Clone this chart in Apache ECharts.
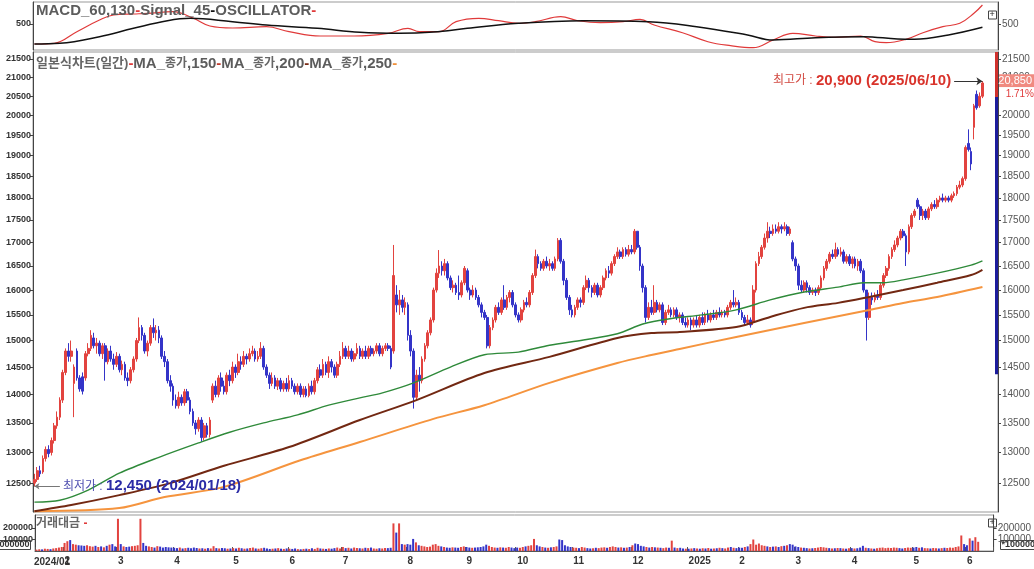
<!DOCTYPE html>
<html><head><meta charset="utf-8">
<script src="https://cdn.jsdelivr.net/npm/echarts@6/dist/echarts.min.js"></script>
<style>html,body{margin:0;padding:0;background:#fff}#c{width:1034px;height:569px}</style>
</head><body><div id="c"></div><script>
// ---------- DATA ----------
const holidays = ['2024-02-09','2024-02-12','2024-03-01','2024-04-10','2024-05-01','2024-05-06','2024-05-15','2024-06-06','2024-08-15','2024-09-16','2024-09-17','2024-09-18','2024-10-01','2024-10-03','2024-10-09','2024-12-25','2024-12-31','2025-01-01','2025-01-27','2025-01-28','2025-01-29','2025-01-30','2025-03-03','2025-05-01','2025-05-05','2025-05-06','2025-06-03','2025-06-06'];
// rows: [open, close, low, high]
const ohlc2401 = [[12500,12560,12450,12650],[12560,12700,12520,12760],[12700,12650,12600,12780],[12680,12900,12650,12950],[12900,13050,12850,13100],[13050,12980,12920,13120],[13000,13200,12950,13250],[13200,13450,13150,13500],[13450,13600,13400,13700],[13600,13900,13550,13950]];
const ohlc2402 = [[13900,14400,13850,14450],[14400,14800,14350,14850],[14800,14700,14600,14950],[14700,14800,14600,15000],[14200,14500,13600,14550],[14800,14300,14250,14850],[14300,14100,14050,14350],[14320,14060,14000,14400],[14300,14750,14250,14800],[14750,14850,14700,14950],[14850,15100,14800,15200],[15050,14900,14850,15150],[14900,14950,14750,15050],[14950,14750,14700,15000],[14750,14900,14650,14950],[14900,14600,14250,14950],[14600,14800,14550,14850],[14800,14650,14600,14900],[14650,14550,14450,14750]];
const ohlc2403 = [[14550,14700,14500,14780],[14700,14450,14400,14750],[14450,14550,14350,14620],[14550,14300,14250,14600],[14300,14250,14150,14400],[14250,14450,14200,14500],[14450,14650,14400,14700],[14650,15000,14600,15050],[15000,15250,14950,15450],[15250,15100,15000,15300],[15100,14800,14750,15150],[14800,14950,14700,15000],[14950,15250,14900,15300],[15250,15150,15050,15430],[15150,15200,15000,15300],[15200,15050,14950,15280],[15050,14700,14650,15100],[14700,14600,14500,14800],[14600,14250,14200,14650],[14250,14150,14050,14350]];
const ohlc2404 = [[14150,13900,13800,14200],[13900,13800,13750,14000],[13800,13950,13750,14050],[13950,13850,13800,14000],[13850,14050,13800,14100],[14050,13900,13850,14100],[13900,13700,13650,13950],[13700,13500,13450,13750],[13500,13400,13300,13550],[13400,13550,13350,13600],[13550,13250,13180,13600],[13250,13450,13200,13500],[13450,13300,13250,13500],[13300,13550,13250,13600],[13900,14150,13850,14200],[14150,14000,13950,14250],[14000,14300,13950,14350],[14300,14150,14050,14400],[14150,14050,14000,14250],[14050,14350,14000,14400],[14350,14250,14150,14450]];
const ohlc2405 = [[14250,14500,14200,14600],[14500,14400,14300,14550],[14400,14600,14350,14750],[14600,14550,14450,14700],[14550,14700,14500,14800],[14700,14650,14550,14750],[14650,14750,14600,14850],[14750,14800,14700,14900],[14800,14650,14600,14850],[14650,14700,14600,14800],[14700,14850,14650,14970],[14850,14500,14450,14900],[14500,14350,14300,14550],[14350,14200,14100,14400],[14200,14300,14150,14400],[14300,14150,14100,14350],[14150,14250,14080,14300],[14250,14100,14050,14300],[14100,14200,14050,14250],[14200,14100,14050,14300]];
const ohlc2406 = [[14100,14250,14050,14350],[14250,14150,14100,14300],[14150,14050,14000,14200],[14050,14150,14000,14200],[14150,14000,13950,14200],[14000,14100,13950,14150],[14100,13980,13950,14150],[13980,14150,13950,14200],[14150,14050,14000,14250],[14050,14250,14000,14300],[14250,14450,14200,14500],[14450,14350,14300,14550],[14350,14550,14300,14650],[14550,14400,14350,14600],[14400,14600,14300,14700],[14600,14500,14400,14650],[14500,14350,14300,14550],[14350,14550,14300,14600],[14550,14700,14500,14800]];
const ohlc2407 = [[14700,14850,14650,14970],[14850,14700,14650,14900],[14700,14800,14650,14900],[14800,14650,14600,14850],[14650,14750,14600,14800],[14750,14850,14700,14950],[14850,14700,14650,14900],[14700,14800,14650,14850],[14800,14700,14650,14900],[14700,14850,14650,14900],[14850,14750,14700,14900],[14750,14800,14700,14850],[14800,14900,14750,14950],[14900,14750,14700,14950],[14750,14850,14700,14900],[14850,14900,14800,14950],[14900,14850,14800,14950],[14850,14500,14460,14900],[14800,16300,14750,16950],[15900,15700,15550,16100],[15700,15800,15500,16000],[15800,15650,15550,15900],[15650,15750,15500,15850]];
const ohlc2408 = [[15700,15100,15000,15750],[15100,14800,14700,15200],[14800,13950,13750,14850],[13950,14350,13900,14450],[14350,14250,14050,14500],[14250,14650,14200,14700],[14650,14900,14600,14950],[14900,15150,14850,15200],[15150,15400,15100,15450],[15400,16000,15350,16050],[16000,16350,15950,16450],[16350,16500,16250,16840],[16500,16400,16300,16600],[16400,16550,16300,16650],[16550,16250,16200,16600],[16250,16050,16000,16300],[16050,16100,15950,16200],[16100,15950,15900,16150],[15950,15900,15800,16300],[15900,16150,15850,16200],[16150,16450,16100,16500]];
const ohlc2409 = [[16400,16000,15950,16450],[16000,15900,15800,16050],[15900,16000,15850,16100],[16000,15850,15800,16050],[15850,15700,15650,15900],[15700,15550,15450,15750],[15550,15450,15400,15600],[15450,14900,14850,15500],[14900,15250,14850,15300],[15250,15400,15200,15450],[15400,15650,15350,15700],[15650,15550,15500,15750],[15550,15800,15500,15850],[15800,15650,15600,16100],[15650,15850,15600,15900],[15850,15950,15750,16000],[15950,15700,15650,16000],[15700,15500,15450,15750]];
const ohlc2410 = [[15500,15400,15350,15550],[15400,15600,15350,15650],[15600,15750,15550,15800],[15750,15700,15650,15850],[15700,15950,15650,16000],[15950,16300,15900,16350],[16300,16700,16250,16850],[16700,16550,16450,16750],[16550,16450,16400,16600],[16450,16600,16400,16650],[16600,16500,16450,16700],[16500,16550,16400,16650],[16550,16450,16400,16600],[16450,16650,16400,16700],[16650,17050,16600,17100],[17050,16600,16550,17100],[16600,16200,16100,16650],[16200,15850,15800,16250],[15850,15600,15500,15900],[15600,15500,15450,15700]];
const ohlc2411 = [[15500,15650,15450,15700],[15650,15800,15600,15850],[15800,15750,15650,15850],[15750,16050,15700,16100],[16050,16200,16000,16300],[16200,16050,15950,16250],[16050,15950,15850,16100],[15950,16100,15900,16150],[16100,15900,15850,16150],[15900,16050,15850,16100],[16050,16250,16000,16300],[16250,16400,16200,16450],[16400,16350,16250,16500],[16350,16550,16300,16600],[16550,16700,16500,16750],[16700,16800,16650,16900],[16800,16700,16650,16850],[16700,16850,16650,16900],[16850,16750,16700,16900],[16750,16850,16700,16950],[16850,16800,16750,16950]];
const ohlc2412 = [[16800,17250,16750,17300],[17250,16900,16850,17250],[16900,16500,16400,16950],[16500,16050,15950,16550],[16050,15450,15350,16100],[15450,15650,15400,15750],[15650,15550,15500,15800],[15550,15750,15500,16100],[15750,15600,15550,15800],[15600,15700,15550,15750],[15700,15350,15300,15750],[15350,15550,15300,15600],[15550,15600,15500,15700],[15600,15500,15450,15650],[15500,15600,15450,15650],[15600,15450,15400,15650],[15450,15500,15350,15550],[15500,15350,15300,15550],[15350,15300,15250,15450],[15300,15400,15250,15450]];
const ohlc2501 = [[15400,15300,15200,15450],[15300,15400,15250,15450],[15400,15300,15250,15500],[15300,15450,15250,15500],[15450,15350,15300,15550],[15350,15500,15300,15550],[15500,15400,15350,15600],[15400,15500,15350,15550],[15500,15450,15400,15600],[15450,15550,15400,15600],[15550,15500,15450,15650],[15500,15550,15450,15600],[15550,15500,15450,15600],[15500,15650,15450,15700],[15650,15750,15600,15800],[15750,15700,15650,16000],[15700,15750,15650,15850],[15750,15550,15500,15800]];
const ohlc2502 = [[15550,15450,15400,15600],[15450,15350,15300,15500],[15350,15400,15300,15500],[15400,15300,15250,15450],[15350,16000,15300,16100],[16000,16550,15950,16600],[16550,16700,16500,16800],[16700,16900,16650,16950],[16900,17100,16850,17200],[17100,17250,17000,17450],[17250,17200,17100,17350],[17200,17300,17150,17400],[17300,17250,17200,17400],[17250,17350,17200,17450],[17350,17300,17200,17400],[17300,17350,17250,17450],[17350,17200,17150,17400],[17200,17300,17150,17350],[17000,16650,16600,17050],[16650,16500,16400,16700]];
const ohlc2503 = [[16500,16100,16000,16550],[16100,16000,15950,16200],[16000,16150,15950,16200],[16150,16050,15950,16200],[16050,15950,15900,16100],[15950,16000,15900,16050],[16000,15950,15880,16050],[15950,16050,15900,16100],[16050,16250,16000,16300],[16250,16450,16200,16500],[16450,16600,16400,16650],[16600,16750,16550,16800],[16750,16700,16650,16850],[16700,16850,16650,17000],[16850,16750,16700,16900],[16750,16800,16700,16900],[16800,16600,16550,16850],[16600,16700,16550,16750],[16700,16550,16500,16750],[16550,16650,16450,16700]];
const ohlc2504 = [[16650,16500,16450,16700],[16500,16600,16400,16650],[16600,16400,16350,16650],[16400,16000,15950,16450],[16000,15450,15000,16000],[15450,15850,15400,15950],[15850,15800,15700,15950],[15800,15900,15750,15950],[15900,15850,15800,16000],[15850,16100,15800,16150],[16100,16300,16050,16350],[16300,16450,16250,16500],[16450,16700,16400,16750],[16700,16850,16650,16900],[16850,16950,16800,17050],[16950,17100,16900,17150],[17100,17250,17050,17300],[17250,17150,17100,17300],[17150,16800,16500,17200],[16800,17350,16750,17400],[17350,17600,17300,17650],[17600,17700,17550,17750]];
const ohlc2505 = [[17950,17800,17750,18000],[17800,17600,17500,17850],[17600,17700,17500,17750],[17700,17550,17500,17750],[17550,17750,17500,17800],[17750,17850,17700,17900],[17850,17800,17750,17950],[17800,17950,17750,18000],[17950,18000,17900,18050],[18000,17950,17900,18100],[17950,18000,17900,18050],[18000,17950,17900,18050],[17950,18050,17900,18100],[18050,18100,18000,18150],[18100,18250,18050,18300],[18250,18300,18200,18400],[18300,18450,18250,18500],[18450,19200,18400,19250],[19300,19150,19100,19650]];
const ohlc2506 = [[19100,18800,18650,19200],[19700,20250,19400,20300],[20550,20200,20150,20650],[20250,20500,20200,20600],[20500,20850,20450,20900]];

// trading value (거래대금), units of 1,000,000
const vol2401 = [12000,15000,14000,20000,18000,16000,22000,25000,30000,35000];
const vol2402 = [70000,85000,95000,60000,55000,50000,48000,45000,50000,42000,38000,45000,35000,40000,32000,45000,55000,60000,40000];
const vol2403 = [280000,60000,40000,35000,38000,42000,45000,50000,280000,70000,45000,40000,35000,30000,42000,38000,30000,35000,32000,30000];
const vol2404 = [28000,25000,30000,22000,25000,28000,24000,30000,26000,22000,24000,20000,25000,22000,42000,25000,22000,26000,24000,20000,22000];
const vol2405 = [25000,22000,28000,24000,20000,22000,26000,30000,22000,20000,24000,28000,22000,18000,20000,22000,25000,20000,18000,22000];
const vol2406 = [20000,18000,22000,16000,15000,18000,20000,17000,24000,18000,28000,22000,20000,18000,22000,20000,25000,30000,22000];
const vol2407 = [35000,25000,28000,22000,30000,26000,24000,22000,28000,25000,30000,22000,20000,24000,22000,26000,25000,28000,240000,160000,240000,60000,55000];
const vol2408 = [60000,55000,105000,75000,50000,45000,40000,35000,38000,55000,60000,45000,40000,35000,30000,28000,32000,30000,28000,35000,40000];
const vol2409 = [35000,30000,28000,30000,32000,35000,40000,55000,45000,35000,30000,28000,32000,30000,28000,35000,30000,25000];
const vol2410 = [30000,28000,35000,40000,45000,50000,105000,50000,40000,35000,30000,28000,32000,35000,40000,100000,95000,50000,40000,35000];
const vol2411 = [30000,28000,25000,35000,30000,25000,22000,24000,28000,25000,30000,32000,28000,35000,40000,35000,30000,32000,28000,30000,35000];
const vol2412 = [50000,65000,60000,45000,40000,35000,30000,35000,32000,30000,28000,25000,30000,28000,90000,30000,25000,28000,22000,20000];
const vol2501 = [20000,22000,25000,22000,20000,24000,22000,26000,20000,22000,24000,28000,25000,22000,30000,35000,28000,25000];
const vol2502 = [30000,28000,35000,40000,60000,100000,55000,65000,50000,45000,40000,35000,38000,40000,35000,42000,45000,50000,60000,55000];
const vol2503 = [40000,35000,30000,28000,25000,22000,24000,26000,30000,35000,32000,28000,25000,22000,24000,26000,25000,22000,20000,24000];
const vol2504 = [25000,22000,24000,30000,45000,28000,25000,22000,20000,24000,28000,30000,25000,28000,26000,30000,28000,25000,22000,26000,30000,28000];
const vol2505 = [30000,35000,28000,32000,25000,24000,22000,26000,24000,22000,25000,28000,26000,30000,28000,35000,40000,135000,60000];
const vol2506 = [50000,110000,90000,120000,80000];

// moving averages: [day index, price]
const ma150 = [[0,12200],[9,12230],[19,12390],[30,12660],[44,12920],[58,13160],[69,13340],[81,13500],[93,13640],[104,13810],[115,13940],[123,14030],[134,14210],[147,14500],[159,14730],[171,14780],[182,14910],[194,15010],[206,15130],[215,15320],[224,15420],[236,15500],[248,15600],[260,15800],[272,15960],[284,16060],[293,16150],[300,16150],[307,16210],[319,16350],[331,16520],[335,16610]];
const ma200 = [[0,12060],[13,12155],[30,12310],[48,12500],[67,12780],[90,13090],[115,13550],[135,13900],[159,14390],[182,14690],[206,15050],[218,15145],[228,15165],[248,15260],[260,15460],[272,15640],[284,15740],[295,15860],[307,16000],[319,16150],[331,16310],[335,16420]];
const ma250 = [[0,12060],[30,12107],[46,12280],[67,12440],[94,12870],[115,13175],[141,13570],[159,13810],[182,14210],[206,14575],[218,14725],[228,14840],[248,15070],[272,15340],[295,15596],[307,15738],[319,15859],[335,16063]];

// MACD panel: [day index, value]
const macdLine = [[0,37],[7,54],[15,320],[23,588],[28,702],[35,725],[40,741],[49,778],[56,633],[62,450],[70,404],[82,434],[90,320],[101,221],[113,221],[125,283],[132,397],[136,320],[143,320],[149,549],[157,626],[164,571],[171,512],[177,549],[186,663],[192,571],[200,526],[208,549],[214,603],[219,473],[229,296],[238,90],[246,-1],[254,-47],[261,129],[268,283],[276,221],[283,191],[292,221],[297,90],[301,67],[308,145],[314,296],[321,434],[327,512],[332,741],[335,931]];
const signalLine = [[0,37],[9,54],[23,205],[35,397],[47,571],[55,626],[70,549],[82,473],[100,397],[115,305],[129,283],[141,312],[153,397],[171,512],[194,571],[217,549],[234,434],[252,244],[261,129],[276,182],[293,205],[305,152],[311,145],[323,244],[335,420]];

const priceTicks = [12500,13000,13500,14000,14500,15000,15500,16000,16500,17000,17500,18000,18500,19000,19500,20000,20500,21000,21500];
const volTicks = [100000,200000];
const macdTicks = [500];

// ---------- BUILD ----------
const FONT = "'Liberation Sans','Noto Sans CJK KR',sans-serif";
const RED = '#e2433f', BLUE = '#3434c8';
function tradingDays() {
  const out = []; let t = Date.UTC(2024,0,18); const end = Date.UTC(2025,5,10);
  while (t <= end) { const d = new Date(t); const wd = d.getUTCDay(); const s = d.toISOString().slice(0,10);
    if (wd !== 0 && wd !== 6 && holidays.indexOf(s) < 0) out.push(s.replace(/-/g,'/')); t += 86400000; }
  return out;
}
const candles = [].concat(ohlc2401,ohlc2402,ohlc2403,ohlc2404,ohlc2405,ohlc2406,ohlc2407,ohlc2408,ohlc2409,ohlc2410,ohlc2411,ohlc2412,ohlc2501,ohlc2502,ohlc2503,ohlc2504,ohlc2505,ohlc2506);
const volume = [].concat(vol2401,vol2402,vol2403,vol2404,vol2405,vol2406,vol2407,vol2408,vol2409,vol2410,vol2411,vol2412,vol2501,vol2502,vol2503,vol2504,vol2505,vol2506);
const dates = tradingDays().slice(0, candles.length);
const categories = dates.concat(['+1','+2','+3','+4','+5']);
// month starts after the first category (the first month label is drawn separately, it overlaps the next one)
const monthStart = categories.map((c,i) => i > 0 && c.length === 10 && c.slice(0,7) !== categories[i-1].slice(0,7));
const firstMonthLabel = categories[0].slice(0,7);
const L = Math.log;
const last = categories.length - 1;

const GL = 33, GR = 36;
function xAx(g) {
  return { type:'category', gridIndex:g, data:categories, boundaryGap:true,
    axisLine:{show:g===2, lineStyle:{color:'#555'}},
    axisTick:{show:g===2, interval:(i)=>monthStart[i] || i===0, inside:true, length:4, lineStyle:{color:'#555'}},
    axisLabel:{show:g===2, interval:(i)=>monthStart[i], align:'left', margin:5, fontSize:10, fontWeight:'bold', color:'#333', fontFamily:FONT,
      formatter:(v)=>{ const m=v.slice(5,7); return m==='01' ? v.slice(0,4) : String(+m); }},
    splitLine:{show:false} };
}
function yAx(g, pos, min, max, ticks, fmt, lab) {
  return { type:'value', gridIndex:g, position:pos, min:min, max:max,
    axisLine:{show:true, lineStyle:{color:'#444'}},
    axisTick:{show:true, length:3, customValues:ticks, lineStyle:{color:'#444'}},
    axisLabel:Object.assign({customValues:ticks, formatter:fmt, fontFamily:FONT}, lab),
    splitLine:{show:false} };
}
const leftLab = {fontSize:9, fontWeight:'bold', color:'#333', margin:2};
const rightLab = {fontSize:10, color:'#555', margin:4};
const pFmt = v => String(Math.round(Math.exp(v)));
const nFmt = v => String(Math.round(v));
const pTicks = priceTicks.map(L);
const pMin = L(12047), pMax = L(21693);

const option = {
  animation:false, backgroundColor:'#fff', textStyle:{fontFamily:FONT},
  title:[
    {left:36, top:3, padding:0, text:'{g|MACD_60,130}{r|-}{g|Signal_45}{k|-}{g|OSCILLATOR}{r|-}',
      textStyle:{rich:{g:{fontSize:15,fontWeight:'bold',color:'#5c5c5c',fontFamily:FONT}, r:{fontSize:15,fontWeight:'bold',color:'#e03a3a',fontFamily:FONT}, k:{fontSize:15,fontWeight:'bold',color:'#111',fontFamily:FONT}}}},
    {left:36, top:56, padding:0, text:'{g|일본식차트(일간)}{r|-}{b|MA_}{s|종가}{b|,150}{d1|-}{b|MA_}{s|종가}{b|,200}{d2|-}{b|MA_}{s|종가}{b|,250}{d3|-}',
      textStyle:{rich:{g:{fontSize:13,color:'#666',fontFamily:FONT}, b:{fontSize:15,fontWeight:'bold',color:'#5c5c5c',fontFamily:FONT}, s:{fontSize:12,color:'#666',fontFamily:FONT},
        r:{fontSize:15,fontWeight:'bold',color:'#e03a3a'}, d1:{fontSize:15,fontWeight:'bold',color:'#c0392b'}, d2:{fontSize:15,fontWeight:'bold',color:'#7a2a14'}, d3:{fontSize:15,fontWeight:'bold',color:'#f0903a'}}}},
    {left:36, top:518, padding:0, text:'{g|거래대금}{r| -}',
      textStyle:{rich:{g:{fontSize:12,color:'#666',fontFamily:FONT}, r:{fontSize:12,fontWeight:'bold',color:'#e03a3a'}}}}
  ],
  grid:[
    {left:GL, right:GR, top:2, height:48, show:true, borderColor:'#999', borderWidth:1},
    {left:GL, right:GR, top:52, height:460, show:true, borderColor:'#999', borderWidth:1},
    {left:GL, right:GR, top:515, height:36, show:true, borderColor:'#999', borderWidth:1}
  ],
  xAxis:[xAx(0), xAx(1), xAx(2)],
  yAxis:[
    yAx(0,'left',-100,1000,macdTicks,nFmt,leftLab),
    yAx(0,'right',-100,1000,macdTicks,nFmt,rightLab),
    yAx(1,'left',pMin,pMax,pTicks,pFmt,leftLab),
    yAx(1,'right',pMin,pMax,pTicks,pFmt,rightLab),
    yAx(2,'left',0,313000,volTicks,nFmt,leftLab),
    yAx(2,'right',0,313000,volTicks,nFmt,rightLab)
  ],
  series:[
    {type:'line', name:'MACD', xAxisIndex:0, yAxisIndex:0, data:macdLine, smooth:0.4, symbol:'none', lineStyle:{color:'#e03a3a', width:1.2}},
    {type:'line', name:'Signal', xAxisIndex:0, yAxisIndex:0, data:signalLine, smooth:0.4, symbol:'none', lineStyle:{color:'#111', width:1.5}},
    {type:'line', name:'MA250', xAxisIndex:1, yAxisIndex:2, data:ma250.map(p=>[p[0],L(p[1])]), smooth:0.3, symbol:'none', lineStyle:{color:'#f5943e', width:2}},
    {type:'line', name:'MA200', xAxisIndex:1, yAxisIndex:2, data:ma200.map(p=>[p[0],L(p[1])]), smooth:0.3, symbol:'none', lineStyle:{color:'#722812', width:2}},
    {type:'line', name:'MA150', xAxisIndex:1, yAxisIndex:2, data:ma150.map(p=>[p[0],L(p[1])]), smooth:0.3, symbol:'none', lineStyle:{color:'#2f8a3a', width:1.4}},
    {type:'candlestick', name:'일본식차트', xAxisIndex:1, yAxisIndex:2, data:candles.map(r=>r.map(L)), barWidth:2.2,
      itemStyle:{color:RED, color0:BLUE, borderColor:RED, borderColor0:BLUE, borderWidth:1},
      markLine:{silent:true, symbol:'none', label:{show:false}, animation:false, data:[
        [{coord:[325,L(20900)], symbol:'none', lineStyle:{color:'#333', width:1, type:'solid'},
          label:{show:true, position:'start', distance:3, formatter:'{a|최고가 : }{b|20,900 (2025/06/10)}',
            rich:{a:{fontSize:12,color:'#d24a42',fontFamily:FONT}, b:{fontSize:15,fontWeight:'bold',color:'#d9332b',fontFamily:FONT}}}},
         {coord:[335,L(20900)], symbol:'arrow', symbolSize:6}],
        [{coord:[0,L(12450)], symbol:'arrow', symbolSize:5, lineStyle:{color:'#777', width:1, type:'solid'},
          label:{show:true, position:'end', distance:3, formatter:'{a|최저가 : }{b|12,450 (2024/01/18)}',
            rich:{a:{fontSize:12,color:'#5050b0',fontFamily:FONT}, b:{fontSize:15,fontWeight:'bold',color:'#2b2ba6',fontFamily:FONT}}}},
         {coord:[9,L(12450)], symbol:'none'}],
        [{coord:[last,pMax], lineStyle:{color:'#d0312d', width:3, type:'solid'}}, {coord:[last,L(20480)]}],
        [{coord:[last,L(20480)], lineStyle:{color:'#1c1c9c', width:3, type:'solid'}}, {coord:[last,L(14365)]}],
        {yAxis:L(20850), lineStyle:{color:'rgba(0,0,0,0)', width:1}, label:{show:true, position:'end', distance:1, offset:[0,8],
          formatter:'{p|20,850}\n{q|1.71%}',
          rich:{p:{backgroundColor:'#f08a80', color:'#fff', fontSize:11, padding:[1,2,1,2], width:31, align:'right', fontFamily:FONT},
                q:{backgroundColor:'#fff', color:'#e03a3a', fontSize:10, align:'right', width:35, padding:[2,0,1,0], fontFamily:FONT}}}}
      ]}},
    {type:'bar', name:'거래대금', xAxisIndex:2, yAxisIndex:4, barWidth:2,
      data:volume.map((v,i)=>({value:v, itemStyle:{color: candles[i][1] >= candles[i][0] ? RED : BLUE}}))}
  ],
  graphic:[
    {type:'text', left:GL+1, top:557, style:{text:firstMonthLabel, fontSize:10, fontWeight:'bold', fill:'#333', fontFamily:FONT}},
    {type:'text', right:1034-31, top:540, style:{text:'*1000000', fontSize:9, fontWeight:'bold', fill:'#333', fontFamily:FONT, borderColor:'#444', borderWidth:1, padding:[0,1]}},
    {type:'text', left:1000, top:540, style:{text:'*1000000', fontSize:9, fontWeight:'bold', fill:'#333', fontFamily:FONT, borderColor:'#444', borderWidth:1, padding:[0,1]}},
    {type:'group', left:988, top:10, children:[
      {type:'rect', shape:{x:0,y:0,width:8,height:8}, style:{fill:'#fff', stroke:'#444', lineWidth:1}},
      {type:'text', x:1, y:-1, style:{text:'+', fontSize:9, fill:'#222', fontFamily:FONT}}]},
    {type:'group', left:988, top:518, children:[
      {type:'rect', shape:{x:0,y:0,width:8,height:8}, style:{fill:'#fff', stroke:'#444', lineWidth:1}},
      {type:'text', x:1, y:-1, style:{text:'+', fontSize:9, fill:'#222', fontFamily:FONT}}]}
  ]
};
const chart = echarts.init(document.getElementById('c'));
chart.setOption(option);
</script></body></html>
